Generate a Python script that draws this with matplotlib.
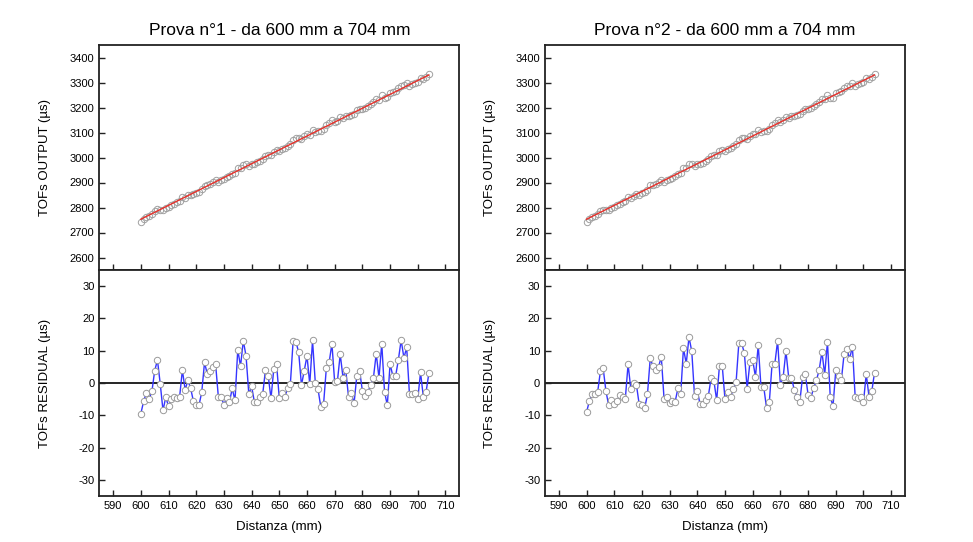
import numpy as np
import matplotlib
matplotlib.use("Agg")
import matplotlib.pyplot as plt

plt.rcParams['font.family'] = ['Liberation Sans', 'DejaVu Sans']
plt.rcParams['axes.unicode_minus'] = False

# Distances (mm), one measurement per millimetre
distance = np.arange(600, 705)

# Residuals of the linear fit (µs) — test 1
residual_1 = [
    -9.5, -5.7, -3.0, -4.9, -2.6, 3.8, 7.1, -0.2, -8.5, -4.4,
    -7.2, -4.9, -4.2, -4.6, -4.3, 4.0, -2.1, 0.8, -1.7, -5.7,
    -6.7, -6.9, -2.8, 6.4, 2.7, 3.8, 5.0, 5.8, -4.4, -4.3,
    -6.7, -4.6, -5.9, -1.7, -5.4, 10.3, 5.2, 13.1, 8.3, -3.5,
    -1.0, -5.9, -6.0, -4.4, -3.5, 4.0, 2.2, -4.8, 4.3, 6.0,
    -4.8, -3.1, -4.2, -1.7, -0.2, 13.1, 12.8, 9.5, -0.7, 3.8,
    8.4, -0.4, 13.2, 0.1, -2.0, -7.5, -6.4, 4.8, 6.4, 12.2,
    0.2, 0.7, 8.9, 1.7, 4.0, -4.3, -3.2, -6.3, 2.3, 3.8,
    -2.4, -3.9, -2.8, -0.6, 1.7, 9.1, 1.6, 12.2, -2.7, -6.9,
    5.9, 2.2, 2.1, 7.2, 13.3, 7.8, 11.0, -3.5, -3.5, -3.0,
    -5.0, 3.3, -4.2, -2.8, 3.0,
]

# Residuals of the linear fit (µs) — test 2
residual_2 = [
    -9.0, -5.7, -3.5, -3.3, -2.9, 3.6, 4.6, -2.5, -6.9, -5.4,
    -6.5, -5.6, -3.8, -4.2, -4.9, 5.8, -1.9, 0.0, -0.5, -6.5,
    -6.9, -7.8, -3.5, 7.6, 5.2, 3.9, 5.0, 8.1, -5.0, -4.4,
    -6.3, -5.7, -5.8, -1.6, -3.5, 10.8, 6.0, 14.2, 9.8, -4.0,
    -2.4, -6.6, -6.5, -5.3, -3.9, 1.6, 0.6, -5.4, 5.4, 5.4,
    -5.1, -2.8, -4.2, -2.0, 0.2, 12.4, 12.4, 9.2, -1.8, 6.4,
    7.1, 1.9, 11.8, -1.3, -1.3, -7.7, -6.0, 5.9, 6.0, 13.1,
    -0.5, 1.8, 9.9, 1.7, 1.7, -2.1, -4.2, -6.0, 1.9, 2.7,
    -3.6, -4.6, -1.6, 0.8, 4.0, 9.7, 2.6, 12.7, -4.2, -7.2,
    3.9, 2.3, 0.8, 8.9, 10.6, 7.5, 11.3, -4.2, -4.7, -4.2,
    -6.0, 2.8, -4.2, -2.6, 3.2,
]

# Linear fit of TOF vs distance: TOF = intercept + slope * (d - 600)
fit_intercept = [2753.0, 2753.0]   # µs at 600 mm
fit_slope = [5.55, 5.55]           # µs per mm

titles = ["Prova n°1 - da 600 mm a 704 mm", "Prova n°2 - da 600 mm a 704 mm"]
residuals = [residual_1, residual_2]

W, H = 973, 542
fig = plt.figure(figsize=(W / 100, H / 100), dpi=100)
fig.patch.set_facecolor("white")

lefts = [99.3, 545.0]
ax_w = 360.0
top_y0, top_y1 = 45.0, 270.0
bot_y0, bot_y1 = 270.0, 496.0

marker_kw = dict(marker="o", markersize=4.6, markerfacecolor="white",
                 markeredgecolor="#9a9a9a", markeredgewidth=0.7)


def style_axes(ax):
    for side in ("top", "right", "left", "bottom"):
        ax.spines[side].set_linewidth(1.3)
        ax.spines[side].set_color("#222222")
    ax.tick_params(direction="in", length=4, width=1.0, color="#222222",
                   labelsize=8, top=False, right=False)
    ax.set_xlim(585, 715)
    ax.set_xticks(np.arange(590, 711, 10))


for i in range(2):
    x0 = lefts[i] / W
    w = ax_w / W
    ax_top = fig.add_axes([x0, 1 - top_y1 / H, w, (top_y1 - top_y0) / H])
    ax_bot = fig.add_axes([x0, 1 - bot_y1 / H, w, (bot_y1 - bot_y0) / H])

    res = np.array(residuals[i])
    fit = fit_intercept[i] + fit_slope[i] * (distance - 600)
    tof = fit + res

    # Upper panel: measured TOFs and fitted line
    ax_top.plot(distance, tof, linestyle="none", zorder=2,
                marker="o", markersize=4.6, markerfacecolor="none",
                markeredgecolor="#a0a0a0", markeredgewidth=0.7)
    ax_top.plot(distance, fit, color="#e8302a", linewidth=1.0, zorder=3)
    ax_top.set_ylim(2550, 3450)
    ax_top.set_yticks(np.arange(2600, 3401, 100))
    style_axes(ax_top)
    ax_top.tick_params(labelbottom=False)
    ax_top.set_ylabel("TOFs OUTPUT (µs)", fontsize=9.5)
    ax_top.yaxis.set_label_coords(-0.135, 0.5)
    ax_top.set_title(titles[i], fontsize=12.5, pad=7)

    # Lower panel: residuals
    ax_bot.axhline(0, color="black", linewidth=1.2, zorder=1)
    ax_bot.plot(distance, res, color="#3535ff", linewidth=1.0, zorder=2, **marker_kw)
    ax_bot.set_ylim(-35, 35)
    ax_bot.set_yticks(np.arange(-30, 31, 10))
    style_axes(ax_bot)
    ax_bot.set_ylabel("TOFs RESIDUAL (µs)", fontsize=9.5)
    ax_bot.yaxis.set_label_coords(-0.135, 0.5)
    ax_bot.set_xlabel("Distanza (mm)", fontsize=9.5, labelpad=7)

fig.savefig("out.png", dpi=100, facecolor="white")
